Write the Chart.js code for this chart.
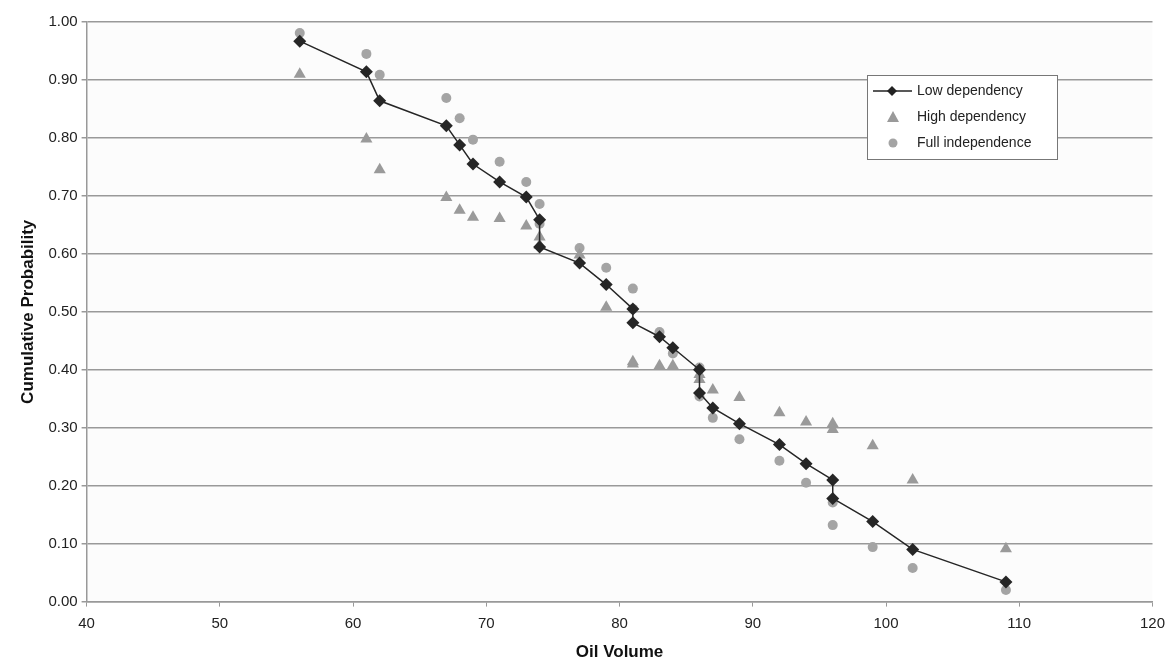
<!DOCTYPE html>
<html>
<head>
<meta charset="utf-8">
<script src="https://cdn.jsdelivr.net/npm/chart.js@4.4.1/dist/chart.umd.min.js"></script>
<style>
  html, body { margin: 0; padding: 0; background: #fff; }
  #wrap { width: 1173px; height: 671px; }
</style>
</head>
<body>
<div id="wrap"><canvas id="myChart"></canvas></div>
<script>
// oil volume for each realisation
const volumes = [56, 61, 62, 67, 68, 69, 71, 73, 74, 74, 77, 79, 81, 81, 83, 84, 86, 86, 87, 89, 92, 94, 96, 96, 99, 102, 109]

const lowDependency = [0.967, 0.914, 0.864, 0.821, 0.788, 0.755, 0.724, 0.698, 0.659, 0.612, 0.584, 0.547, 0.505, 0.481,
  0.457, 0.438, 0.400, 0.360, 0.334, 0.307, 0.271, 0.238, 0.210, 0.178, 0.138, 0.090, 0.034]
const highDependency = [0.910, 0.798, 0.745, 0.697, 0.675, 0.663, 0.661, 0.648, 0.629, 0.615, 0.598, 0.508, 0.414, 0.410,
  0.407, 0.407, 0.392, 0.383, 0.365, 0.352, 0.326, 0.310, 0.307, 0.297, 0.269, 0.210, 0.091]
const fullIndependence = [0.981, 0.945, 0.909, 0.869, 0.834, 0.797, 0.759, 0.724, 0.686, 0.652, 0.610, 0.576, 0.540, 0.505,
  0.465, 0.428, 0.404, 0.354, 0.317, 0.280, 0.243, 0.205, 0.171, 0.132, 0.094, 0.058, 0.020]

const xTicks = [40, 50, 60, 70, 80, 90, 100, 110, 120]

const toPoints = (ys) => volumes.map((v, i) => ({ x: v, y: ys[i] }))

const FONT = 'Arial, "Liberation Sans", sans-serif'

// legend drawn inside the plot, like the original
const boxLegend = {
  id: 'boxLegend',
  afterDraw(chart) {
    const c = chart.ctx
    const x = 867, y = 75, w = 190, h = 84
    c.save()
    c.fillStyle = '#fff'
    c.fillRect(x, y, w, h)
    c.strokeStyle = '#777'
    c.lineWidth = 1
    c.strokeRect(x + 0.5, y + 0.5, w, h)
    c.font = '14px ' + FONT
    c.textBaseline = 'middle'
    const rows = [y + 16, y + 42, y + 68]
    // low dependency: line + diamond
    c.strokeStyle = '#222'
    c.lineWidth = 1.3
    c.beginPath()
    c.moveTo(873, rows[0]); c.lineTo(912, rows[0]); c.stroke()
    c.fillStyle = '#222'
    c.beginPath()
    c.moveTo(892, rows[0] - 5); c.lineTo(897, rows[0]); c.lineTo(892, rows[0] + 5); c.lineTo(887, rows[0]); c.closePath(); c.fill()
    // high dependency: triangle
    c.fillStyle = '#9a9a9a'
    c.beginPath()
    c.moveTo(893, rows[1] - 6); c.lineTo(899, rows[1] + 5); c.lineTo(887, rows[1] + 5); c.closePath(); c.fill()
    // full independence: circle
    c.fillStyle = '#a4a4a4'
    c.beginPath()
    c.arc(893, rows[2], 4.5, 0, Math.PI * 2); c.fill()
    c.fillStyle = '#222'
    c.fillText('Low dependency', 917, rows[0])
    c.fillText('High dependency', 917, rows[1])
    c.fillText('Full independence', 917, rows[2])
    c.restore()
  }
}

const plotBg = {
  id: 'plotBg',
  beforeDraw(chart) {
    const a = chart.chartArea
    const c = chart.ctx
    c.save()
    c.fillStyle = '#fcfcfc'
    c.fillRect(a.left, a.top, a.right - a.left, a.bottom - a.top)
    c.restore()
  }
}

const ctx = document.getElementById('myChart')

// eslint-disable-next-line no-unused-vars
const myChart = new Chart(ctx, {
  type: 'scatter',
  plugins: [plotBg, boxLegend],
  data: {
    datasets: [{
      label: 'Low dependency',
      data: toPoints(lowDependency),
      showLine: true,
      borderColor: '#262626',
      backgroundColor: '#262626',
      borderWidth: 1.5,
      pointStyle: 'rectRot',
      pointRadius: 6.5,
      pointBorderWidth: 0,
      order: 1,
    }, {
      label: 'High dependency',
      data: toPoints(highDependency),
      backgroundColor: '#9a9a9a',
      borderColor: '#9a9a9a',
      pointStyle: 'triangle',
      pointRadius: 7,
      pointBorderWidth: 0,
      order: 2,
    }, {
      label: 'Full independence',
      data: toPoints(fullIndependence),
      backgroundColor: '#a4a4a4',
      borderColor: '#a4a4a4',
      pointStyle: 'circle',
      pointRadius: 5,
      pointBorderWidth: 0,
      order: 3,
    }]
  },
  options: {
    responsive: true,
    maintainAspectRatio: false,
    animation: false,
    layout: {
      padding: { left: 18, right: 14, top: 22, bottom: 8 }
    },
    plugins: {
      legend: { display: false },
      tooltip: { enabled: false },
    },
    scales: {
      x: {
        type: 'linear',
        min: 40,
        max: 120,
        afterBuildTicks: (axis) => { axis.ticks = xTicks.map(v => ({ value: v })) },
        grid: {
          display: true,
          drawOnChartArea: false,
          tickLength: 5,
          color: '#999',
        },
        border: { color: '#999', width: 1.5 },
        ticks: {
          color: '#222',
          font: { size: 15, family: FONT },
          padding: 8,
          maxRotation: 0,
        },
        title: {
          display: true,
          text: 'Oil Volume',
          color: '#111',
          font: { size: 17, weight: 'bold', family: FONT },
          padding: { top: 2, bottom: 0 },
        },
      },
      y: {
        min: 0,
        max: 1,
        grid: {
          color: '#999',
          lineWidth: 1.5,
          tickLength: 5,
        },
        border: { color: '#999', width: 1.5 },
        ticks: {
          stepSize: 0.1,
          color: '#222',
          font: { size: 15, family: FONT },
          padding: 4,
          callback: (v) => v.toFixed(2),
        },
        title: {
          display: true,
          text: 'Cumulative Probability',
          color: '#111',
          font: { size: 17, weight: 'bold', family: FONT },
          padding: { top: 0, bottom: 6 },
        },
      },
    },
  }
})
</script>
</body>
</html>
